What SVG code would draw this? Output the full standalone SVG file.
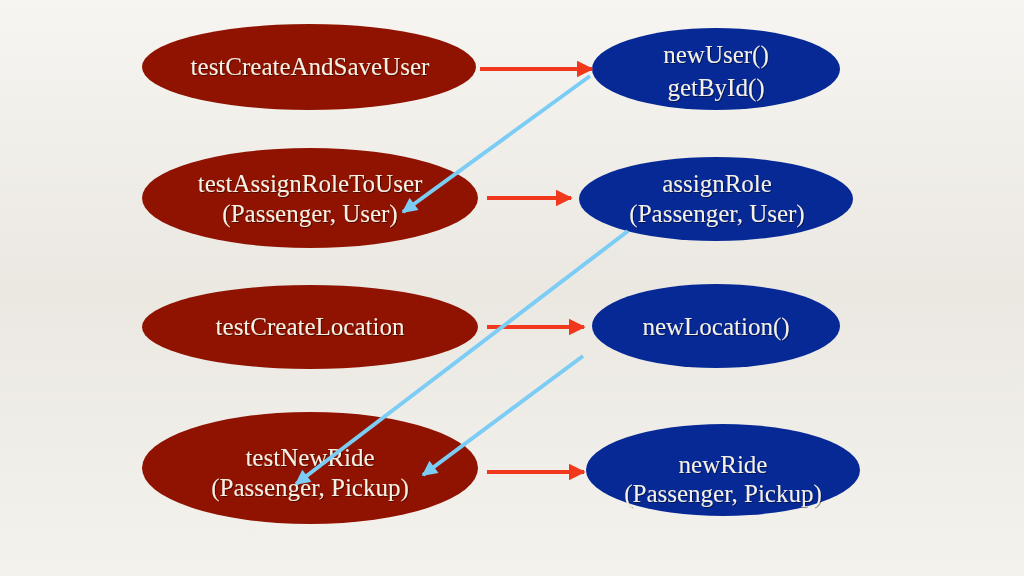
<svg xmlns="http://www.w3.org/2000/svg" width="1024" height="576" viewBox="0 0 1024 576">
<defs>
<linearGradient id="bg" x1="0" y1="0" x2="0" y2="1">
<stop offset="0" stop-color="#f7f5f1"/>
<stop offset="0.5" stop-color="#ebe8e2"/>
<stop offset="1" stop-color="#f4f2ed"/>
</linearGradient>
<filter id="ts" x="-10%" y="-30%" width="120%" height="160%">
<feDropShadow dx="1" dy="1" stdDeviation="0.6" flood-color="#000" flood-opacity="0.45"/>
</filter>
<marker id="ah-red" viewBox="0 0 10 10" refX="9" refY="5" markerWidth="4.2" markerHeight="4.4" markerUnits="strokeWidth" orient="auto">
<path d="M0,0 L10,5 L0,10 z" fill="#f2381c"/>
</marker>
<marker id="ah-blue" viewBox="0 0 10 10" refX="9" refY="5" markerWidth="4" markerHeight="3.8" markerUnits="strokeWidth" orient="auto">
<path d="M0,0 L10,5 L0,10 z" fill="#7ccdf5"/>
</marker>
</defs>
<style>
.red{fill:#8f1300}
.blue{fill:#072996}
.t{font-family:"Liberation Serif","DejaVu Serif",serif;font-size:25px;fill:#f6f1e6;text-anchor:middle;filter:url(#ts)}
.ra{stroke:#f2381c;stroke-width:4;fill:none;marker-end:url(#ah-red)}
.ba{stroke:#7ccdf5;stroke-width:4;fill:none;marker-end:url(#ah-blue)}
</style>
<rect width="1024" height="576" fill="url(#bg)"/>
<g id="testCreateAndSaveUser">
<ellipse class="red" cx="309" cy="67" rx="167" ry="43"/>
<text class="t" x="310" y="75">testCreateAndSaveUser</text>
</g>
<g id="testAssignRoleToUser">
<ellipse class="red" cx="310" cy="198" rx="168" ry="50"/>
<text class="t" x="310" y="192">testAssignRoleToUser</text>
<text class="t" x="310" y="222">(Passenger, User)</text>
</g>
<g id="testCreateLocation">
<ellipse class="red" cx="310" cy="327" rx="168" ry="42"/>
<text class="t" x="310" y="335">testCreateLocation</text>
</g>
<g id="testNewRide">
<ellipse class="red" cx="310" cy="468" rx="168" ry="56"/>
<text class="t" x="310" y="466">testNewRide</text>
<text class="t" x="310" y="496">(Passenger, Pickup)</text>
</g>
<g id="newUser">
<ellipse class="blue" cx="716" cy="69" rx="124" ry="41"/>
<text class="t" x="716" y="63">newUser()</text>
<text class="t" x="716" y="96">getById()</text>
</g>
<g id="assignRole">
<ellipse class="blue" cx="716" cy="199" rx="137" ry="42"/>
<text class="t" x="717" y="192">assignRole</text>
<text class="t" x="717" y="222">(Passenger, User)</text>
</g>
<g id="newLocation">
<ellipse class="blue" cx="716" cy="326" rx="124" ry="42"/>
<text class="t" x="716" y="335">newLocation()</text>
</g>
<g id="newRide">
<ellipse class="blue" cx="723" cy="470" rx="137" ry="46"/>
<text class="t" x="723" y="473">newRide</text>
<text class="t" x="723" y="502">(Passenger, Pickup)</text>
</g>
<g id="connectors">
<line class="ra" x1="480" y1="69" x2="592" y2="69"/>
<line class="ra" x1="487" y1="198" x2="571" y2="198"/>
<line class="ra" x1="487" y1="327" x2="584" y2="327"/>
<line class="ra" x1="487" y1="472" x2="584" y2="472"/>
<line class="ba" x1="590" y1="76" x2="403" y2="212"/>
<line class="ba" x1="628" y1="231" x2="296" y2="484"/>
<line class="ba" x1="583" y1="356" x2="423" y2="475"/>
</g>
</svg>
